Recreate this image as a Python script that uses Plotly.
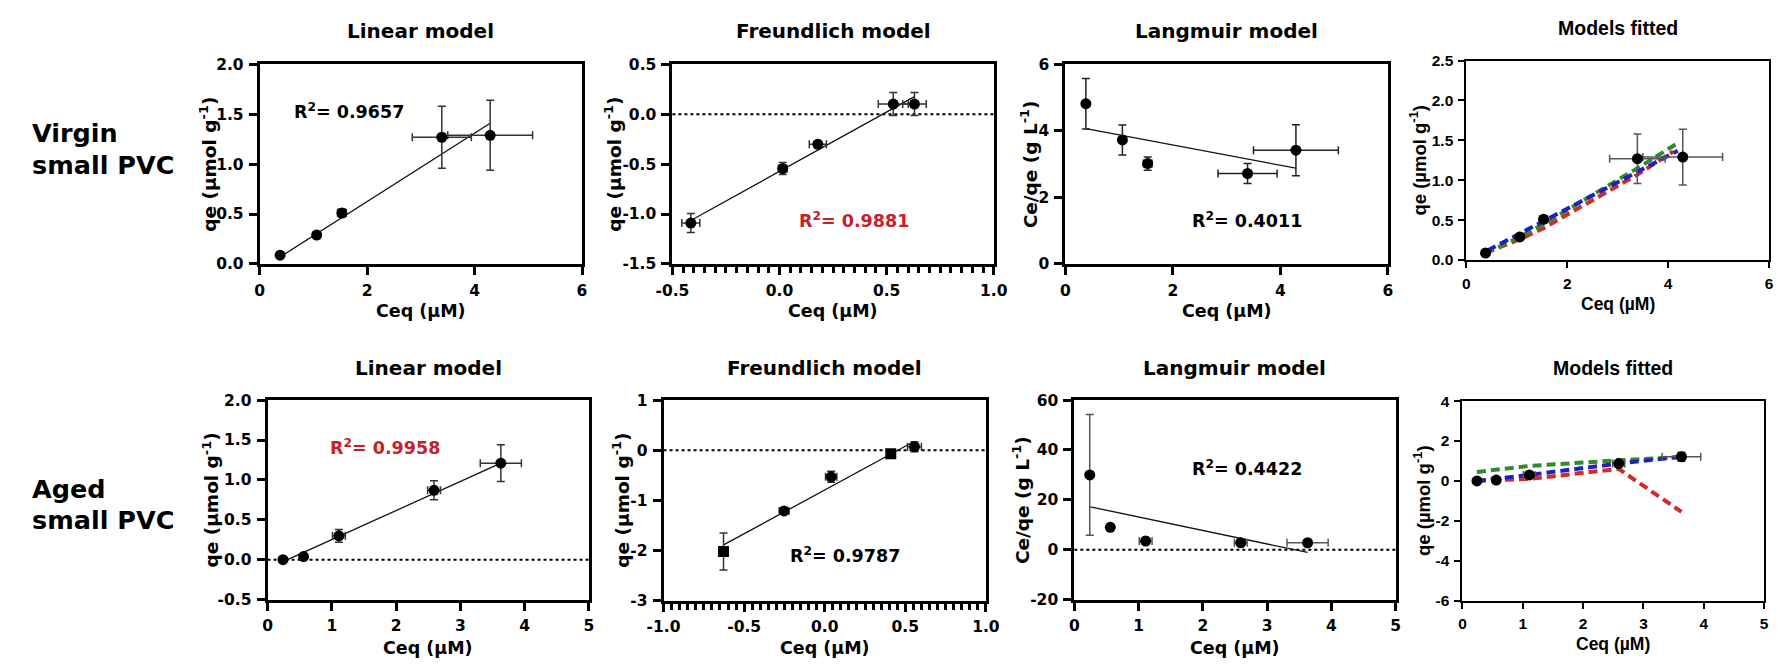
import plotly.graph_objects as go

W, H = 1785, 666

# ---------------- Virgin small PVC ----------------
v_ceq = [0.38, 1.06, 1.53, 3.39, 4.29]
v_ceq_err = [0.03, 0.04, 0.08, 0.55, 0.79]
v_qe = [0.088, 0.29, 0.51, 1.27, 1.29]
v_qe_err = [0.02, 0.03, 0.04, 0.31, 0.35]
v_lin_fit_x = [0.38, 4.29]
v_lin_fit_y = [0.07, 1.41]

v_log_ceq = [-0.414, 0.015, 0.179, 0.531, 0.630]
v_log_ceq_err = [0.042, 0.02, 0.04, 0.07, 0.055]
v_log_qe = [-1.09, -0.544, -0.30, 0.103, 0.103]
v_log_qe_err = [0.095, 0.06, 0.03, 0.115, 0.115]
v_fr_fit_x = [-0.41, 0.63]
v_fr_fit_y = [-1.06, 0.178]

v_ce_qe = [4.82, 3.73, 3.02, 2.72, 3.42]
v_ce_qe_err = [0.76, 0.45, 0.2, 0.3, 0.77]
v_lg_fit_x = [0.38, 4.29]
v_lg_fit_y = [4.07, 2.88]

v_model_lg_x = [0.38, 1.06, 1.53, 3.39, 4.10]
v_model_lg_y = [0.09, 0.26, 0.40, 1.07, 1.36]
v_model_fr_x = [0.38, 1.06, 1.53, 3.39, 4.20]
v_model_fr_y = [0.085, 0.29, 0.45, 1.15, 1.47]
v_model_lin_x = [0.42, 4.19]
v_model_lin_y = [0.12, 1.37]

# ---------------- Aged small PVC ----------------
a_ceq = [0.24, 0.56, 1.11, 2.59, 3.63]
a_ceq_err = [0.02, 0.02, 0.1, 0.1, 0.32]
a_qe = [0.0, 0.04, 0.30, 0.87, 1.21]
a_qe_err = [0.01, 0.01, 0.08, 0.12, 0.23]
a_lin_fit_x = [0.31, 3.63]
a_lin_fit_y = [0.0, 1.21]

a_log_ceq = [-0.628, -0.252, 0.04, 0.41, 0.557]
a_log_ceq_err = [0.01, 0.03, 0.035, 0.01, 0.043]
a_log_qe = [-2.02, -1.21, -0.53, -0.07, 0.07]
a_log_qe_err = [0.37, 0.04, 0.11, 0.03, 0.1]
a_log_symbols = ["square", "circle", "circle", "square", "circle"]
a_fr_fit_x = [-0.628, 0.557]
a_fr_fit_y = [-1.89, 0.18]

a_ce_qe = [30.0, 9.0, 3.5, 2.8, 2.8]
a_ce_qe_err = [24.2, 0.8, 0.5, 0.5, 0.3]
a_lg_fit_x = [0.25, 3.63]
a_lg_fit_y = [17.2, -1.1]

a_model_lg_y = [0.0, 0.03, 0.1, 0.6, -1.55]
a_model_fr_y = [0.45, 0.57, 0.75, 1.03, 1.2]
a_model_lin_y = [0.0, 0.1, 0.3, 0.87, 1.21]

# ---------------- Axis ticks ----------------
ticks_0_6 = [0, 2, 4, 6]
ticks_0_5 = [0, 1, 2, 3, 4, 5]
ticks_q_v = [0.0, 0.5, 1.0, 1.5, 2.0]
ticks_q_v_txt = ["0.0", "0.5", "1.0", "1.5", "2.0"]
ticks_fr_x_v = [-0.5, 0.0, 0.5, 1.0]
ticks_fr_x_v_txt = ["-0.5", "0.0", "0.5", "1.0"]
ticks_fr_y_v = [-1.5, -1.0, -0.5, 0.0, 0.5]
ticks_fr_y_v_txt = ["-1.5", "-1.0", "-0.5", "0.0", "0.5"]
ticks_lg_y_v = [0, 2, 4, 6]
ticks_mod_y_v = [0.0, 0.5, 1.0, 1.5, 2.0, 2.5]
ticks_mod_y_v_txt = ["0.0", "0.5", "1.0", "1.5", "2.0", "2.5"]
ticks_q_a = [-0.5, 0.0, 0.5, 1.0, 1.5, 2.0]
ticks_q_a_txt = ["-0.5", "0.0", "0.5", "1.0", "1.5", "2.0"]
ticks_fr_x_a = [-1.0, -0.5, 0.0, 0.5, 1.0]
ticks_fr_x_a_txt = ["-1.0", "-0.5", "0.0", "0.5", "1.0"]
ticks_fr_y_a = [-3, -2, -1, 0, 1]
ticks_fr_y_a_txt = ["-3", "-2", "-1", "0", "1"]
ticks_lg_y_a = [-20, 0, 20, 40, 60]
ticks_lg_y_a_txt = ["-20", "0", "20", "40", "60"]
ticks_mod_y_a = [-6, -4, -2, 0, 2, 4]
ticks_mod_y_a_txt = ["-6", "-4", "-2", "0", "2", "4"]
MINOR_STEP = 0.05

MAIN_FONT = "DejaVu Sans"
ARIAL = "Liberation Sans"
RED_TXT = "#c8202a"
C_RED = "#d42a2a"
C_GREEN = "#2e8b2e"
C_BLUE = "#2020c0"

fig = go.Figure()


def xd(l, r):
    return [l / W, r / W]


def yd(t, b):
    return [1 - b / H, 1 - t / H]


# panel boxes in pixels: (left, right, top, bottom)
boxes = {
    1: (247, 575, 57, 262),
    2: (667, 994, 57, 262),
    3: (1067, 1395, 57, 262),
    4: (1475, 1783, 53, 258),
    5: (255, 582, 402, 607),
    6: (658, 986, 402, 608),
    7: (1076, 1403, 402, 607),
    8: (1471, 1778, 403, 608),
}


def refs(n):
    s = "" if n == 1 else str(n)
    return "x" + s, "y" + s


def minor_vals(lo, hi, step):
    count = int(round((hi - lo) / step))
    return [round(lo + i * step, 4) for i in range(count + 1)]


def axis_pair(n, xr, yr, xt, xtt, yt, ytt, model=False, minor=False):
    l, r, t, b = boxes[n]
    fam = ARIAL if model else MAIN_FONT
    lw = 2 if model else 3
    tf = dict(family=fam, size=15.5, color="black", weight="bold")
    common = dict(showgrid=False, zeroline=False, showline=True, mirror=True,
                  linecolor="black", linewidth=lw, ticks="outside",
                  ticklen=6 if model else 8, tickwidth=lw, tickcolor="black",
                  tickfont=tf, tickmode="array", fixedrange=True)
    sfx = "" if n == 1 else str(n)
    xa = dict(common, domain=xd(l, r), range=xr, tickvals=xt, ticktext=xtt,
              anchor="y" + sfx, ticklabelstandoff=2)
    if minor:
        xa["minor"] = dict(ticks="outside", ticklen=6, tickwidth=3,
                           tickcolor="black", tickmode="array",
                           tickvals=minor_vals(xr[0], xr[1], MINOR_STEP))
    fig.layout["xaxis" + sfx] = xa
    fig.layout["yaxis" + sfx] = dict(common, domain=yd(t, b), range=yr, tickvals=yt,
                                     ticktext=ytt, anchor="x" + sfx, ticklabelstandoff=2)


def points(n, x, y, ex, ey, color="#333333", symbol="circle", size=11):
    xr, yr = refs(n)
    fig.add_trace(go.Scatter(
        x=x, y=y, mode="markers", xaxis=xr, yaxis=yr, showlegend=False,
        marker=dict(color="black", size=size, symbol=symbol),
        error_x=dict(type="data", array=ex, color=color, thickness=1.5, width=4),
        error_y=dict(type="data", array=ey, color=color, thickness=1.5, width=4),
    ))


def fit_line(n, x, y):
    xr, yr = refs(n)
    fig.add_trace(go.Scatter(x=x, y=y, mode="lines", xaxis=xr, yaxis=yr,
                             showlegend=False,
                             line=dict(color="#111111", width=1.3)))


def model_curve(n, x, y, color):
    xr, yr = refs(n)
    fig.add_trace(go.Scatter(x=x, y=y, mode="lines", xaxis=xr, yaxis=yr,
                             showlegend=False,
                             line=dict(color=color, width=4, dash="9px,5px")))


def zero_line(n):
    xr, yr = refs(n)
    fig.add_shape(type="line", xref=xr + " domain", yref=yr, x0=0, x1=1,
                  y0=0, y1=0, line=dict(color="black", width=2, dash="dot"),
                  layer="below")


# ---- axes ----
axis_pair(1, [0, 6], [0, 2], ticks_0_6, [str(v) for v in ticks_0_6], ticks_q_v, ticks_q_v_txt)
axis_pair(2, [-0.5, 1.0], [-1.5, 0.5], ticks_fr_x_v, ticks_fr_x_v_txt, ticks_fr_y_v,
          ticks_fr_y_v_txt, minor=True)
axis_pair(3, [0, 6], [0, 6], ticks_0_6, [str(v) for v in ticks_0_6], ticks_lg_y_v,
          [str(v) for v in ticks_lg_y_v])
axis_pair(4, [0, 6], [0, 2.5], ticks_0_6, [str(v) for v in ticks_0_6], ticks_mod_y_v,
          ticks_mod_y_v_txt, model=True)
axis_pair(5, [0, 5], [-0.5, 2.0], ticks_0_5, [str(v) for v in ticks_0_5], ticks_q_a, ticks_q_a_txt)
axis_pair(6, [-1.0, 1.0], [-3, 1], ticks_fr_x_a, ticks_fr_x_a_txt, ticks_fr_y_a,
          ticks_fr_y_a_txt, minor=True)
axis_pair(7, [0, 5], [-20, 60], ticks_0_5, [str(v) for v in ticks_0_5], ticks_lg_y_a,
          ticks_lg_y_a_txt)
axis_pair(8, [0, 5], [-6, 4], ticks_0_5, [str(v) for v in ticks_0_5], ticks_mod_y_a,
          ticks_mod_y_a_txt, model=True)

# ---- zero reference lines ----
for n in (2, 5, 6, 7):
    zero_line(n)

# ---- virgin row ----
fit_line(1, v_lin_fit_x, v_lin_fit_y)
points(1, v_ceq, v_qe, v_ceq_err, v_qe_err)
fit_line(2, v_fr_fit_x, v_fr_fit_y)
points(2, v_log_ceq, v_log_qe, v_log_ceq_err, v_log_qe_err)
fit_line(3, v_lg_fit_x, v_lg_fit_y)
points(3, v_ceq, v_ce_qe, v_ceq_err, v_ce_qe_err, color="#222222")
model_curve(4, v_model_lg_x, v_model_lg_y, C_RED)
model_curve(4, v_model_fr_x, v_model_fr_y, C_GREEN)
model_curve(4, v_model_lin_x, v_model_lin_y, C_BLUE)
points(4, v_ceq, v_qe, v_ceq_err, v_qe_err, color="#555555")

# ---- aged row ----
fit_line(5, a_lin_fit_x, a_lin_fit_y)
points(5, a_ceq, a_qe, a_ceq_err, a_qe_err)
fit_line(6, a_fr_fit_x, a_fr_fit_y)
points(6, a_log_ceq, a_log_qe, a_log_ceq_err, a_log_qe_err, symbol=a_log_symbols)
fit_line(7, a_lg_fit_x, a_lg_fit_y)
points(7, a_ceq, a_ce_qe, a_ceq_err, a_ce_qe_err, color="#555555")
model_curve(8, a_ceq, a_model_lg_y, C_RED)
model_curve(8, a_ceq, a_model_fr_y, C_GREEN)
model_curve(8, a_ceq, a_model_lin_y, C_BLUE)
points(8, a_ceq, a_qe, a_ceq_err, a_qe_err, color="#555555")

# ---- text ----
ann = []


def text_px(x, y, s, size, fam=MAIN_FONT, color="black", angle=None, xanchor="center"):
    a = dict(xref="paper", yref="paper", x=x / W, y=1 - y / H, text=s,
             showarrow=False, xanchor=xanchor, yanchor="middle",
             font=dict(family=fam, size=size, color=color, weight="bold"))
    if angle is not None:
        a["textangle"] = angle
    ann.append(a)


def r2(n, x, y, s, color="black"):
    xr, yr = refs(n)
    ann.append(dict(xref=xr, yref=yr, x=x, y=y, text="R<sup>2</sup>= " + s,
                    showarrow=False, xanchor="center", yanchor="middle",
                    font=dict(family=MAIN_FONT, size=17.5, color=color, weight="bold")))


panel_titles = ["Linear model", "Freundlich model", "Langmuir model", "Models fitted"]
row_title_y = [23, 369]
model_title_y = [20, 369]
for row, panel_ids in enumerate([(1, 2, 3, 4), (5, 6, 7, 8)]):
    for k, n in enumerate(panel_ids):
        l, r, t, b = boxes[n]
        if k == 3:
            text_px((l + r) / 2, model_title_y[row], panel_titles[k], 19.5, fam=ARIAL)
        else:
            text_px((l + r) / 2, row_title_y[row], panel_titles[k], 20)

# x-axis titles
xt_y = {1: 310, 2: 310, 3: 310, 4: 303, 5: 657, 6: 657, 7: 657, 8: 653}
for n, yy in xt_y.items():
    l, r, t, b = boxes[n]
    model = n in (4, 8)
    text_px((l + r) / 2, yy, "Ceq (µM)", 17.5, fam=ARIAL if model else MAIN_FONT)

# y-axis titles
yt_x = {1: 195, 2: 607, 3: 1030, 4: 1426, 5: 197, 6: 615, 7: 1022, 8: 1430}
y_titles = {1: "qe (µmol g<sup>-1</sup>)", 2: "qe (µmol g<sup>-1</sup>)",
            3: "Ce/qe (g L<sup>-1</sup>)", 4: "qe (µmol g<sup>-1</sup>)",
            5: "qe (µmol g<sup>-1</sup>)", 6: "qe (µmol g<sup>-1</sup>)",
            7: "Ce/qe (g L<sup>-1</sup>)", 8: "qe (µmol g<sup>-1</sup>)"}
for n, xx in yt_x.items():
    l, r, t, b = boxes[n]
    model = n in (4, 8)
    text_px(xx, (t + b) / 2, y_titles[n], 18.5,
            fam=ARIAL if model else MAIN_FONT, angle=-90)

# R squared labels
r2(1, 1.66, 1.53, "0.9657")
r2(2, 0.347, -1.06, "0.9881", color=RED_TXT)
r2(3, 3.38, 1.33, "0.4011")
r2(5, 1.82, 1.41, "0.9958", color=RED_TXT)
r2(6, 0.128, -2.1, "0.9787")
r2(7, 2.69, 32.8, "0.4422")

# row labels
text_px(13, 127, "Virgin", 25.5, xanchor="left")
text_px(13, 160, "small PVC", 25.5, xanchor="left")
text_px(13, 493, "Aged", 25.5, xanchor="left")
text_px(13, 525, "small PVC", 25.5, xanchor="left")

fig.update_layout(
    width=W, height=H, margin=dict(l=0, r=0, t=0, b=0),
    paper_bgcolor="white", plot_bgcolor="white",
    font=dict(family=MAIN_FONT, color="black"),
    annotations=ann, showlegend=False,
)

fig.write_html("out.html", config={"displayModeBar": False},
               post_script="document.body.style.margin='0';")
